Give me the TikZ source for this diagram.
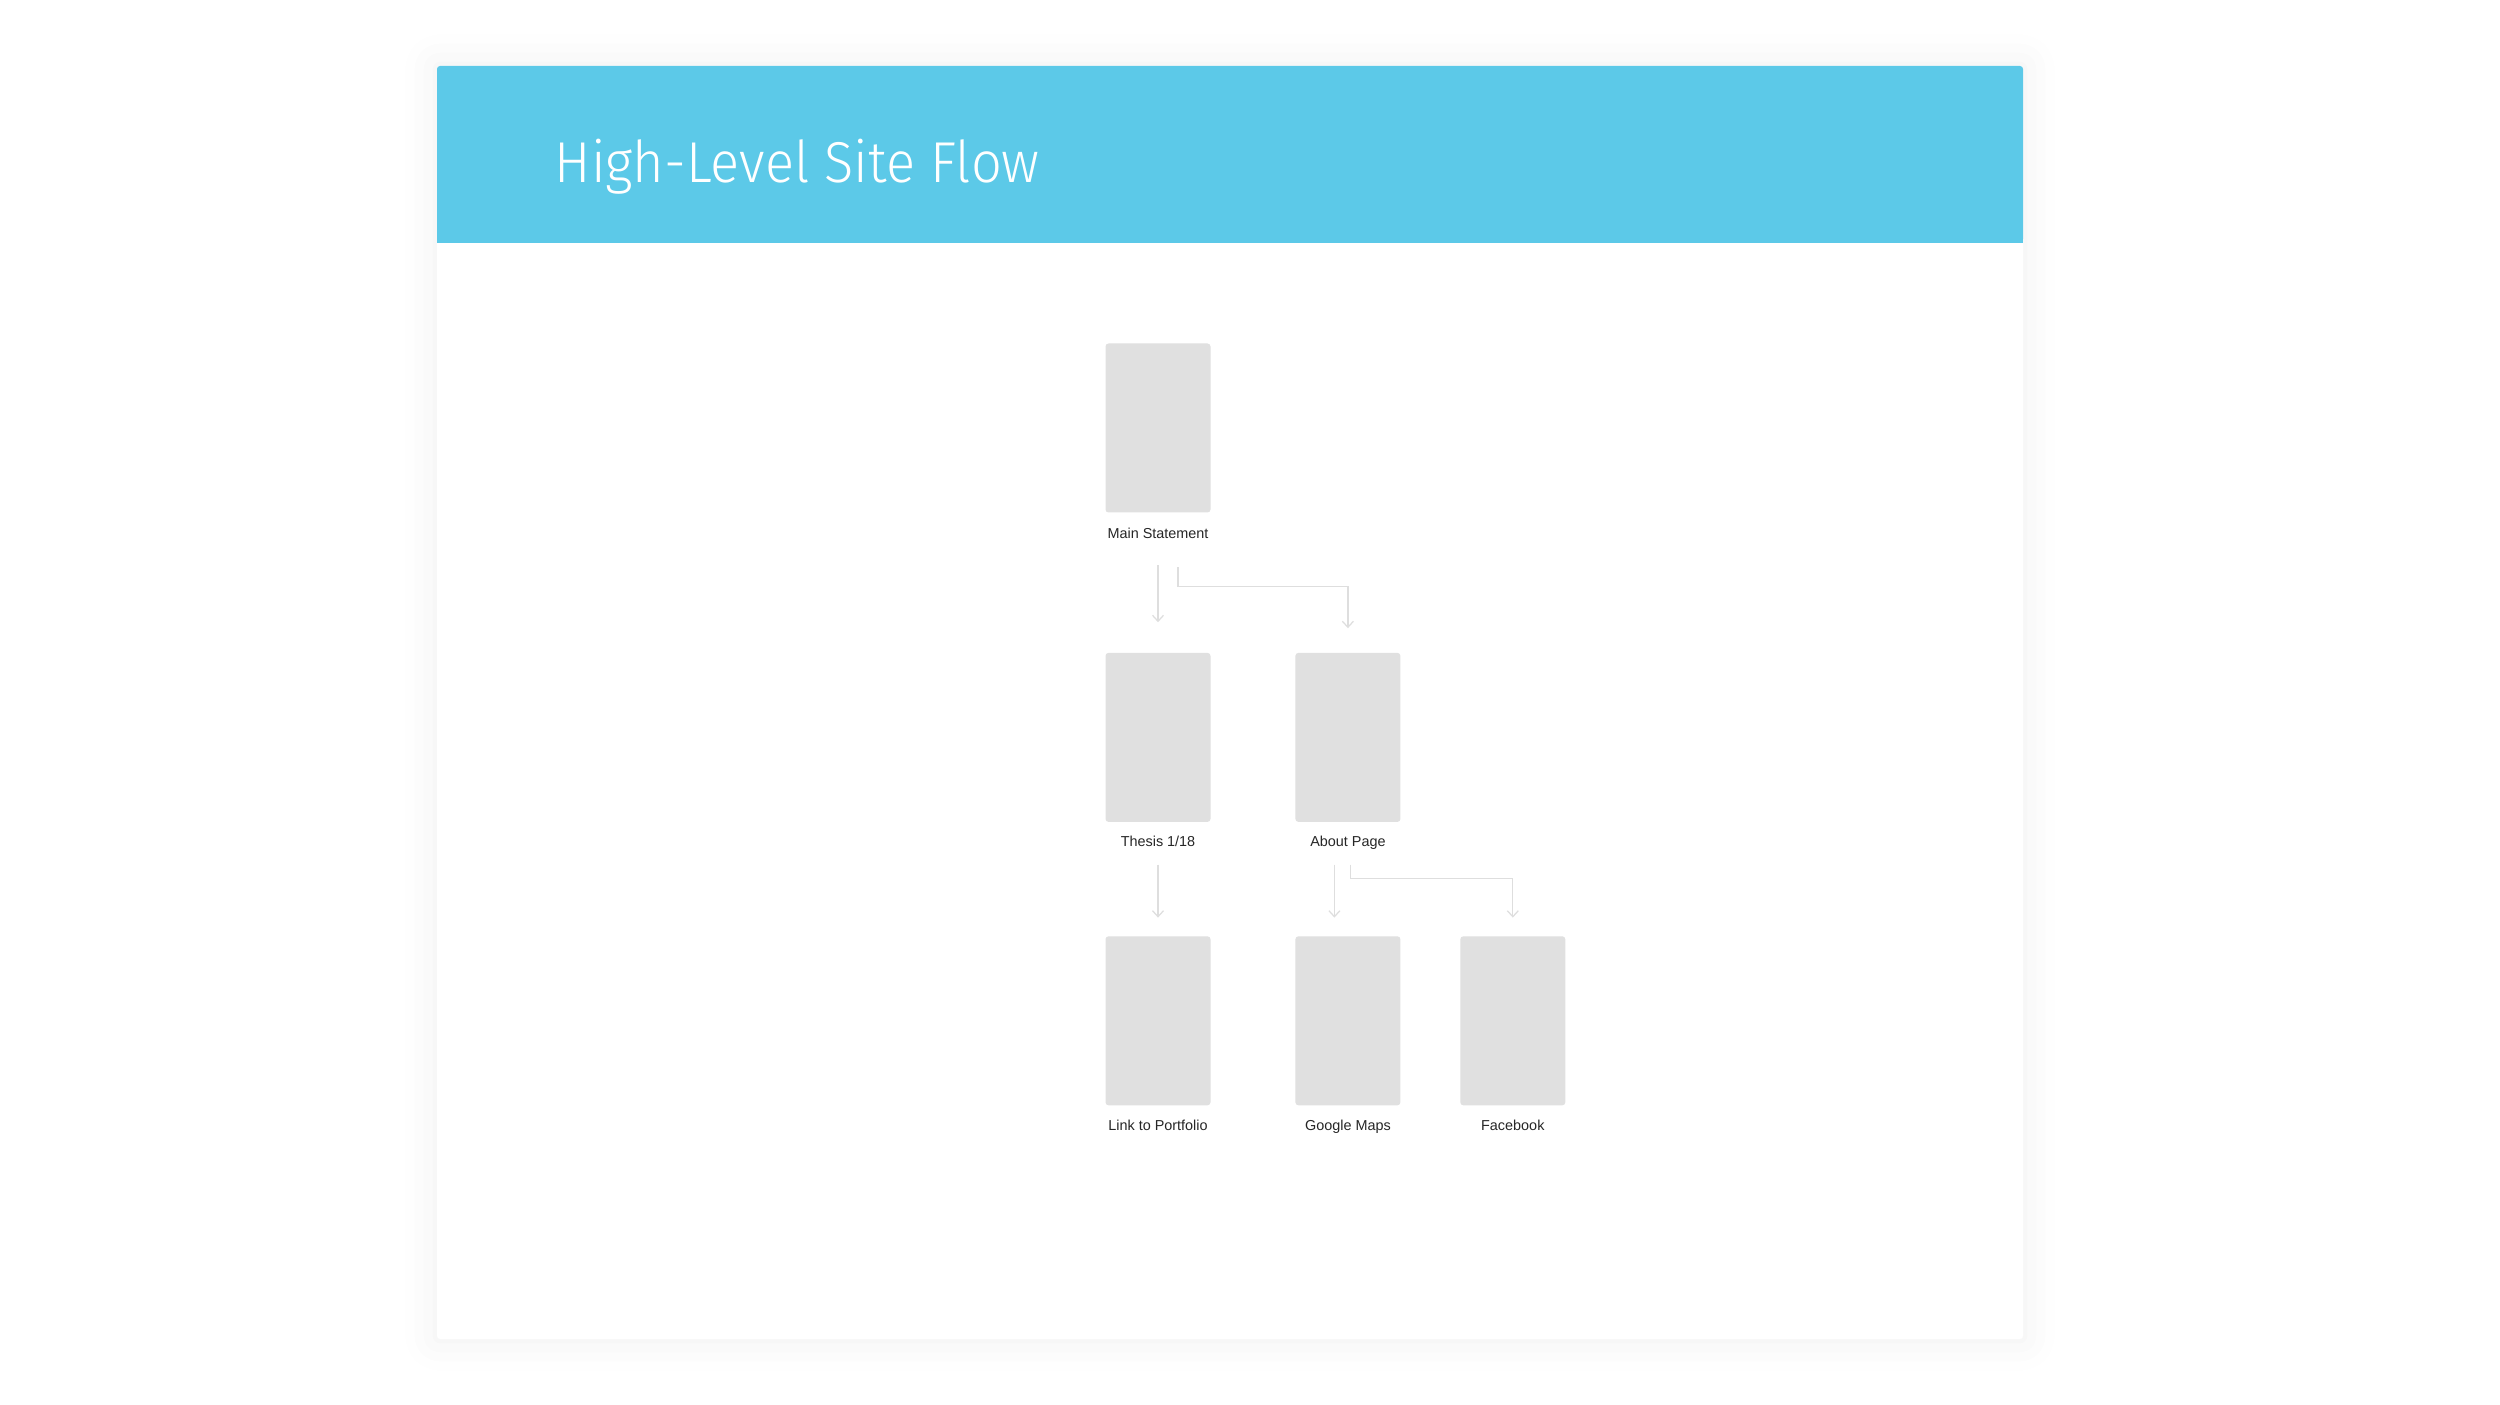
\documentclass[tikz,border=0pt]{standalone}
\usepackage{fontspec}
\setmainfont{Liberation Sans}
\newfontfamily\titlefont{Fira Sans Light}[FakeStretch=0.94]
\usetikzlibrary{positioning,shadows,shadows.blur,arrows.meta}
\definecolor{HeaderBlue}{RGB}{92,201,232}
\definecolor{PageGray}{RGB}{224,224,224}
\definecolor{LinkGray}{RGB}{222,222,222}
\tikzstyle{PageNode}=[rectangle, fill=PageGray, rounded corners=0.3mm, minimum width=10.5mm, minimum height=16.9mm, inner sep=0pt]
\tikzstyle{CaptionNode}=[inner sep=0pt, font=\fontsize{4.1}{5}\selectfont, text=black!85]
\tikzstyle{FlowArrow}=[draw=LinkGray, line width=0.35pt, -{Straight Barb[length=0.6mm, width=1.1mm]}]

\begin{document}
\begin{tikzpicture}[x=0.1mm, y=-0.1mm]
      \useasboundingbox (0,0) rectangle (2500,1405);
      % card and header
      \fill[white, rounded corners=0.3mm, blur shadow={shadow xshift=0pt, shadow yshift=0pt, shadow blur radius=9pt, shadow opacity=6}] (437,66) rectangle (2023,1339);
      \fill[HeaderBlue, rounded corners=0.3mm] (437,242) |- (2023,66) -- (2023,242) -- cycle;
      \fill[HeaderBlue] (437,200) rectangle (2023,243);
      \node[anchor=base west, inner sep=0pt, text=white, font=\titlefont\fontsize{16.4}{18}\selectfont] (title) at (554,183) {High-Level Site Flow};
      % pages
      \node[PageNode] (main) at (1158,428) {};
      \node[PageNode] (thesis) [below=13.9mm of main] {};
      \node[PageNode] (about) [right=8.35mm of thesis] {};
      \node[PageNode] (portfolio) [below=11.3mm of thesis] {};
      \node[PageNode] (maps) [below=11.3mm of about] {};
      \node[PageNode] (facebook) [right=5.85mm of maps] {};
      % captions
      \node[CaptionNode, anchor=base] (maincap) at ([yshift=-2.5mm]main.south) {Main Statement};
      \node[CaptionNode, anchor=base] (thesiscap) at ([yshift=-2.4mm]thesis.south) {Thesis 1/18};
      \node[CaptionNode, anchor=base] (aboutcap) at ([yshift=-2.4mm]about.south) {About Page};
      \node[CaptionNode, anchor=base] (portfoliocap) at ([yshift=-2.4mm]portfolio.south) {Link to Portfolio};
      \node[CaptionNode, anchor=base] (mapscap) at ([yshift=-2.4mm]maps.south) {Google Maps};
      \node[CaptionNode, anchor=base] (facebookcap) at ([yshift=-2.4mm]facebook.south) {Facebook};
      % links
      \draw[FlowArrow] ([yshift=-2.7mm]maincap.base) -- ([yshift=3mm]thesis.north);
      \draw[FlowArrow] ([xshift=2mm, yshift=-2.9mm]maincap.base) -- ++(0,19) -| ([yshift=2.4mm]about.north);
      \draw[FlowArrow] ([yshift=-1.8mm]thesiscap.base) -- ([yshift=1.8mm]portfolio.north);
      \draw[FlowArrow] ([xshift=-1.35mm, yshift=-1.8mm]aboutcap.base) -- ([xshift=-1.35mm, yshift=1.8mm]maps.north);
      \draw[FlowArrow] ([xshift=0.25mm, yshift=-1.8mm]aboutcap.base) -- ++(0,14) -| ([yshift=1.8mm]facebook.north);
    \end{tikzpicture}
\end{document}
